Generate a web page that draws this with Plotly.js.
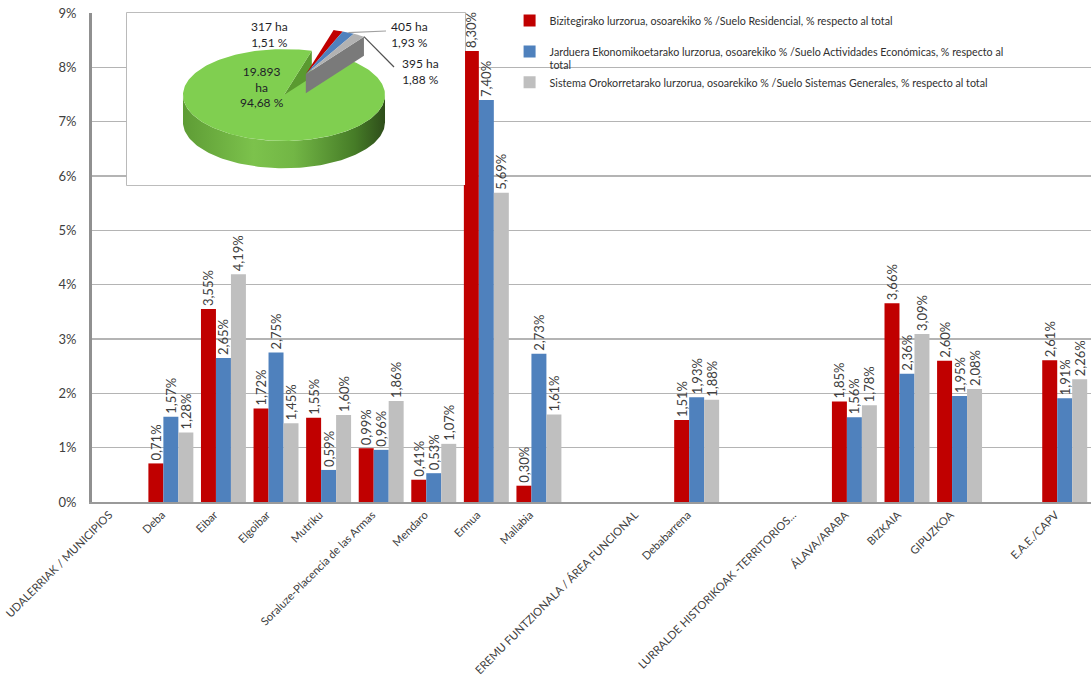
<!DOCTYPE html>
<html>
<head>
<meta charset="utf-8">
<script src="https://cdn.plot.ly/plotly-3.0.1.min.js"></script>
<style>
  html, body { margin: 0; padding: 0; background: #ffffff; }
  #chart { width: 1091px; height: 685px; }
</style>
</head>
<body>
<div id="chart"></div>
<script>
// ---------------- DATA ----------------
const categories = [
  'UDALERRIAK / MUNICIPIOS', 'Deba', 'Eibar', 'Elgoibar', 'Mutriku',
  'Soraluze-Placencia de las Armas', 'Mendaro', 'Ermua', 'Mallabia', ' ',
  'EREMU FUNTZIONALA / ÁREA FUNCIONAL', 'Debabarrena', '  ',
  'LURRALDE HISTORIKOAK -TERRITORIOS...', 'ÁLAVA/ARABA', 'BIZKAIA', 'GIPUZKOA', '   ',
  'E.A.E./CAPV'
];
const seriesNames = [
  'Bizitegirako lurzorua, osoarekiko % /Suelo Residencial, % respecto al total<br>&nbsp;',
  'Jarduera Ekonomikoetarako lurzorua, osoarekiko % /Suelo Actividades Económicas, % respecto al<br>total',
  'Sistema Orokorretarako lurzorua, osoarekiko % /Suelo Sistemas Generales, % respecto al total'
];
const residential = [null, 0.71, 3.55, 1.72, 1.55, 0.99, 0.41, 8.30, 0.30, null, null, 1.51, null, null, 1.85, 3.66, 2.60, null, 2.61];
const economic    = [null, 1.57, 2.65, 2.75, 0.59, 0.96, 0.53, 7.40, 2.73, null, null, 1.93, null, null, 1.56, 2.36, 1.95, null, 1.91];
const generalSys  = [null, 1.28, 4.19, 1.45, 1.60, 1.86, 1.07, 5.69, 1.61, null, null, 1.88, null, null, 1.78, 3.09, 2.08, null, 2.26];
const yTickValues = [0, 1, 2, 3, 4, 5, 6, 7, 8, 9];
const yTickText   = ['0%', '1%', '2%', '3%', '4%', '5%', '6%', '7%', '8%', '9%'];

// Inset pie: residential, economic, general systems, rest
const pieHa  = [317, 405, 395, 19893];
const piePct = [1.51, 1.93, 1.88, 94.68];

// ---------------- STYLE ----------------
const COLORS = ['#c00000', '#4f81bd', '#bfbfbf'];
const PIE_TOP = ['#c00000', '#4f81bd', '#b2b2b2', '#80cf50'];
const FONT = 'Lato, "Open Sans", sans-serif';

function fmtPct(v) { return v == null ? '' : v.toFixed(2).replace('.', ',') + '%'; }
function fmtThousands(n) { return String(n).replace(/\B(?=(\d{3})+(?!\d))/g, '.'); }

const barSeries = [residential, economic, generalSys];
const traces = barSeries.map((vals, i) => ({
  type: 'bar',
  name: seriesNames[i],
  x: categories,
  y: vals,
  text: vals.map(fmtPct),
  textposition: 'outside',
  textangle: -90,
  constraintext: 'none',
  cliponaxis: false,
  textfont: { family: FONT, size: 13, color: '#404040' },
  marker: { color: COLORS[i], line: { width: 0 } },
  hoverinfo: 'x+y'
}));

// ---------------- PIE (pseudo 3D, on its own axes) ----------------
const CX = 284, CY = 95, PXU = 101;           // pie centre (px) and px per unit
const K = 0.455, DEPTH = 0.27, EXPLODE = 0.5, START = 74;
const rad = d => d * Math.PI / 180;
const slices = [];
let ang = START;
piePct.forEach(p => { const sw = p / 100 * 360; slices.push({ a0: ang, a1: ang - sw }); ang -= sw; });
const mid = (slices[0].a0 + slices[2].a1) / 2;
const offX = EXPLODE * Math.cos(rad(mid)), offY = EXPLODE * K * Math.sin(rad(mid));

function arcPts(a0, a1, ox, oy, dy) {
  const xs = [], ys = [];
  const n = Math.max(2, Math.ceil(Math.abs(a1 - a0) / 1.5));
  for (let j = 0; j <= n; j++) {
    const t = rad(a0 + (a1 - a0) * j / n);
    xs.push(ox + Math.cos(t)); ys.push(oy + K * Math.sin(t) - (dy || 0));
  }
  return [xs, ys];
}
function poly(xs, ys, color, extra) {
  return Object.assign({
    type: 'scatter', mode: 'lines', xaxis: 'x2', yaxis: 'y2',
    x: xs.concat([xs[0]]), y: ys.concat([ys[0]]), fill: 'toself',
    fillcolor: color, line: { width: 0, color: color }, hoverinfo: 'skip', showlegend: false
  }, extra || {});
}

const pieTraces = [];
{
  const [ux, uy] = arcPts(180, 360, 0, 0, 0);
  const [lx, ly] = arcPts(360, 180, 0, 0, DEPTH);
  pieTraces.push(poly(ux.concat(lx), uy.concat(ly), '#6cae3f', {
    fillgradient: { type: 'horizontal', colorscale: [[0, '#5e9c35'], [0.35, '#7cc24c'], [0.55, '#72b645'], [0.85, '#467c27'], [1, '#2e4d1a']] }
  }));
}
{
  const t = rad(slices[3].a1);
  const ex = Math.cos(t), ey = K * Math.sin(t);
  pieTraces.push(poly([0, ex, ex, 0], [0, ey, ey - DEPTH, -DEPTH], '#5a9a30'));
}
{
  const [ax, ay] = arcPts(slices[3].a0, slices[3].a1, 0, 0, 0);
  pieTraces.push(poly([0].concat(ax), [0].concat(ay), PIE_TOP[3]));
}
{
  const t = rad(slices[2].a1);
  const ex = offX + Math.cos(t), ey = offY + K * Math.sin(t);
  pieTraces.push(poly([offX, ex, ex, offX], [offY, ey, ey - DEPTH * 0.7, offY - DEPTH * 0.7], '#7a7a7a'));
}
for (let i = 0; i < 3; i++) {
  const [ax, ay] = arcPts(slices[i].a0, slices[i].a1, offX, offY, 0);
  pieTraces.push(poly([offX].concat(ax), [offY].concat(ay), PIE_TOP[i]));
}

const u = px => (px - CX) / PXU;
const v = py => (CY - py) / PXU;
const pctTxt = p => p.toFixed(2).replace('.', ',') + ' %';
const pieLabelPos = [[270, 34], [409, 34], [420, 71], [262, 87]];
const pieAnn = pieHa.map((ha, i) => ({
  xref: 'x2', yref: 'y2', x: u(pieLabelPos[i][0]), y: v(pieLabelPos[i][1]),
  text: i === 3 ? fmtThousands(ha) + '<br>ha<br>' + pctTxt(piePct[i]) : fmtThousands(ha) + ' ha<br>' + pctTxt(piePct[i]),
  showarrow: false, font: { family: FONT, size: 12, color: '#1e1e28' }, align: 'center'
}));
const blueMid = rad((slices[1].a0 + slices[1].a1) / 2);
const grayEnd = rad(slices[2].a1);

const layout = {
  width: 1091, height: 685,
  margin: { l: 92, r: 0, t: 13, b: 183 },
  paper_bgcolor: '#ffffff', plot_bgcolor: '#ffffff',
  barmode: 'group', bargap: 0.145, bargroupgap: 0,
  font: { family: FONT, color: '#404040' },
  showlegend: true,
  legend: {
    x: 0.418, y: 1.012, xanchor: 'left', yanchor: 'top',
    bgcolor: 'rgba(0,0,0,0)', font: { family: FONT, size: 10.7, color: '#303030' },
    valign: 'top', traceorder: 'normal'
  },
  xaxis: {
    type: 'category', categoryorder: 'array', categoryarray: categories,
    range: [-0.5, categories.length - 0.5],
    showline: true, linecolor: '#9a9a9a', linewidth: 2,
    showgrid: false, ticks: '', tickangle: -45, ticklabelshift: -9,
    tickfont: { family: FONT, size: 11.2, color: '#404040' }, fixedrange: true
  },
  yaxis: {
    range: [0, 9], tickmode: 'array', tickvals: yTickValues, ticktext: yTickText,
    showgrid: true, gridcolor: '#b4b4b4', gridwidth: 1.3,
    showline: true, linecolor: '#909090', linewidth: 3, zeroline: false,
    ticks: '', ticklabelstandoff: 10,
    tickfont: { family: FONT, size: 13, color: '#404040' }, fixedrange: true
  },
  xaxis2: { domain: [0.035, 0.3734], range: [u(127), u(465)], visible: false, anchor: 'y2', fixedrange: true },
  yaxis2: { domain: [(502 - 185) / 489, 1], range: [v(185), v(13)], visible: false, anchor: 'x2', fixedrange: true },
  shapes: [
    { type: 'rect', xref: 'x2 domain', yref: 'y2 domain', x0: 0, x1: 1, y0: 0, y1: 1,
      fillcolor: '#ffffff', line: { color: '#a6a6a6', width: 1.5 }, layer: 'below' },
    { type: 'line', xref: 'x2', yref: 'y2',
      x0: offX + Math.cos(blueMid), y0: offY + K * Math.sin(blueMid), x1: u(386), y1: v(31),
      line: { color: '#a0a0a0', width: 1.2 } },
    { type: 'line', xref: 'x2', yref: 'y2',
      x0: offX + Math.cos(grayEnd), y0: offY + K * Math.sin(grayEnd), x1: u(394), y1: v(67),
      line: { color: '#505050', width: 1.2 } }
  ],
  annotations: pieAnn
};

Plotly.newPlot('chart', traces.concat(pieTraces), layout, { staticPlot: true, displayModeBar: false });
</script>
</body>
</html>
